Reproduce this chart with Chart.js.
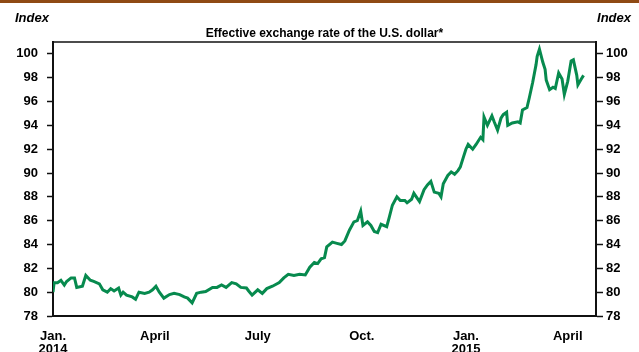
<!DOCTYPE html>
<html>
<head>
<meta charset="utf-8">
<script src="https://cdn.jsdelivr.net/npm/chart.js@4.4.1/dist/chart.umd.min.js"></script>
<style>
  html, body { margin: 0; padding: 0; background: #fff; }
  #wrap { width: 639px; height: 352px; }
</style>
</head>
<body>
<div id="wrap"><canvas id="Chart_Dollar_Index" width="639" height="352"></canvas></div>
<script>
// days since Jan. 1, 2014
var days = [
  0, 1, 4, 7, 10, 12, 16, 19, 21, 26, 29, 33, 36, 41, 44, 48, 51, 54, 58, 60,
  62, 65, 70, 73, 76, 81, 85, 88, 91, 94, 98, 103, 107, 112, 116, 119, 123, 127, 131, 135,
  141, 145, 149, 153, 158, 162, 166, 171, 173, 176, 181, 185, 189, 194, 200, 204, 208, 213, 218, 223,
  227, 231, 234, 237, 240, 242, 247, 251, 255, 258, 262, 266, 269, 272, 274, 278, 281, 284, 287, 290,
  295, 297, 300, 304, 307, 311, 313, 317, 319, 324, 328, 331, 334, 337, 341, 343, 345, 349, 352, 355,
  358, 360, 363, 365, 367, 371, 374, 378, 380, 381, 384, 388, 390, 393, 396, 398, 401, 402, 406, 411,
  413, 415, 419, 421, 424, 427, 428, 430, 433, 435, 436, 439, 442, 444, 447, 450, 452, 455, 458, 460,
  463, 464, 467, 469
];
var dollarIndex = [
  80.0, 80.8, 80.8, 81.0, 80.6, 80.9, 81.2, 81.2, 80.4, 80.5, 81.4, 81.0, 80.9, 80.7, 80.2, 80.0, 80.3, 80.1, 80.35, 79.75,
  80.0, 79.75, 79.6, 79.4, 80.0, 79.9, 80.0, 80.2, 80.5, 80.0, 79.5, 79.8, 79.9, 79.8, 79.6, 79.5, 79.1, 79.9, 80.0, 80.05,
  80.4, 80.4, 80.6, 80.4, 80.8, 80.7, 80.4, 80.35, 80.1, 79.75, 80.2, 79.9, 80.3, 80.5, 80.8, 81.2, 81.5, 81.4, 81.5, 81.45,
  82.1, 82.5, 82.4, 82.8, 82.9, 83.8, 84.2, 84.1, 84.0, 84.3, 85.2, 85.9, 86.0, 86.8, 85.6, 85.9, 85.6, 85.1, 85.0, 85.7,
  85.5, 86.2, 87.3, 88.0, 87.7, 87.7, 87.5, 87.8, 88.3, 87.6, 88.6, 89.0, 89.3, 88.4, 88.3, 88.0, 89.1, 89.8, 90.1, 89.9,
  90.2, 90.5, 91.4, 92.0, 92.4, 92.0, 92.4, 93.0, 92.8, 94.7, 94.0, 94.8, 94.3, 93.6, 94.6, 94.9, 95.1, 94.0, 94.2, 94.3,
  94.2, 95.3, 95.5, 96.3, 97.6, 99.1, 99.8, 100.4, 99.3, 98.7, 97.8, 97.0, 97.2, 97.1, 98.4, 97.9, 96.6, 97.7, 99.4, 99.5,
  98.2, 97.4, 97.9, 98.2
];
var xTickDays = [0, 90, 181, 273, 365, 455];
var xTickLabels = [['Jan.', '2014'], 'April', 'July', 'Oct.', ['Jan.', '2015'], 'April'];

var FONT = 'Liberation Sans, Arial, Helvetica, sans-serif';
var points = days.map(function (d, i) { return {x: d, y: dollarIndex[i]}; });

// fixed frame, title and the two "Index" captions
var framePlugin = {
  id: 'frame',
  beforeDraw: function (chart) {
    var ctx = chart.ctx;
    ctx.save();
    ctx.fillStyle = '#fff';
    ctx.fillRect(0, 0, chart.width, chart.height);
    ctx.fillStyle = '#8f4a14';
    ctx.fillRect(0, 0, chart.width, 3);
    ctx.restore();
  },
  afterDraw: function (chart) {
    var ctx = chart.ctx, a = chart.chartArea;
    ctx.save();
    ctx.strokeStyle = '#111';
    ctx.lineWidth = 1.5;
    ctx.beginPath();
    ctx.moveTo(a.left, a.top);
    ctx.lineTo(a.right, a.top);
    ctx.stroke();
    ctx.fillStyle = '#000';
    ctx.textBaseline = 'alphabetic';
    ctx.font = 'italic bold 13px ' + FONT;
    ctx.textAlign = 'left';
    ctx.fillText('Index', 15, 22);
    ctx.textAlign = 'right';
    ctx.fillText('Index', 631, 22);
    ctx.font = 'bold 12px ' + FONT;
    ctx.textAlign = 'center';
    ctx.fillText('Effective exchange rate of the U.S. dollar*', (a.left + a.right) / 2, 37);
    ctx.restore();
  }
};

function evenTicks(scale) {
  var t = [];
  for (var v = 78; v <= 100; v += 2) t.push({value: v});
  scale.ticks = t;
}

var yTickFont = {family: FONT, size: 13, weight: 'bold'};

new Chart(document.getElementById('Chart_Dollar_Index').getContext('2d'), {
  type: 'line',
  data: {
    datasets: [{
      data: points,
      borderColor: '#078a4e',
      borderWidth: 3,
      pointRadius: 0,
      tension: 0,
      fill: false
    }]
  },
  options: {
    responsive: false,
    animation: false,
    events: [],
    layout: {padding: {top: 42, left: 0, right: 0, bottom: 0}},
    plugins: {
      legend: {display: false},
      tooltip: {enabled: false}
    },
    scales: {
      x: {
        type: 'linear',
        min: 0,
        max: 480,
        afterBuildTicks: function (scale) {
          scale.ticks = xTickDays.map(function (d) { return {value: d}; });
        },
        afterFit: function (scale) { scale.height = 36; },
        grid: {display: false},
        border: {display: true, color: '#111', width: 2},
        ticks: {
          autoSkip: false,
          maxRotation: 0,
          padding: 6,
          color: '#000',
          font: {family: FONT, size: 13, weight: 'bold', lineHeight: 1.0},
          callback: function (value) {
            var i = xTickDays.indexOf(value);
            return i >= 0 ? xTickLabels[i] : '';
          }
        }
      },
      y: {
        position: 'left',
        min: 78,
        max: 101,
        afterBuildTicks: evenTicks,
        afterFit: function (scale) { scale.width = 53; },
        grid: {display: true, drawOnChartArea: false, drawTicks: true, tickLength: 6, tickColor: '#111', tickWidth: 1.5},
        border: {display: true, color: '#111', width: 2},
        ticks: {padding: 9, color: '#000', font: yTickFont}
      },
      y2: {
        position: 'right',
        min: 78,
        max: 101,
        afterBuildTicks: evenTicks,
        afterFit: function (scale) { scale.width = 43; },
        grid: {display: true, drawOnChartArea: false, drawTicks: true, tickLength: 7, tickColor: '#111', tickWidth: 1.5},
        border: {display: true, color: '#111', width: 2},
        ticks: {padding: 3, color: '#000', font: yTickFont}
      }
    }
  },
  plugins: [framePlugin]
});
</script>
</body>
</html>
